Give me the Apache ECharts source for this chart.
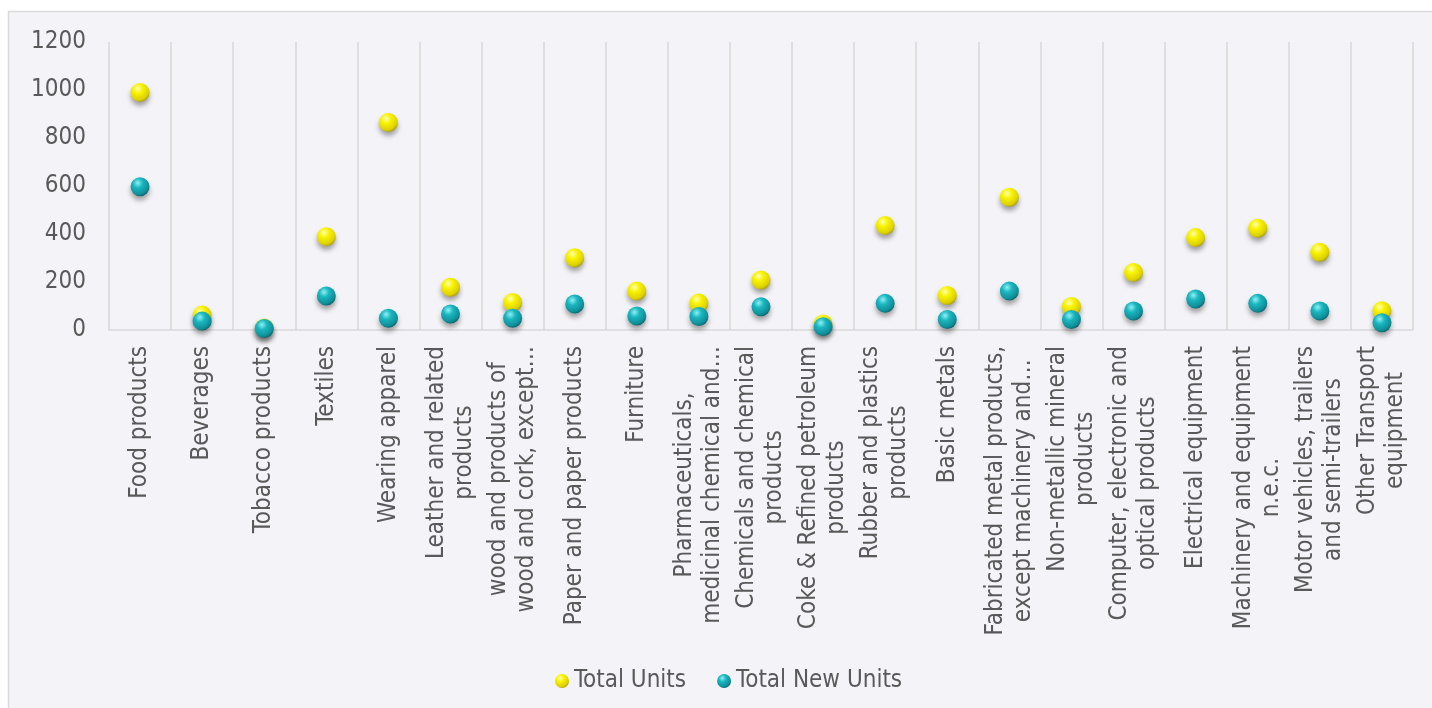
<!DOCTYPE html>
<html>
<head>
<meta charset="utf-8">
<script src="https://cdn.jsdelivr.net/npm/echarts@6/dist/echarts.min.js"></script>
<style>
html,body{margin:0;padding:0;background:#ffffff;}
#chart{position:absolute;left:0;top:0;width:1432px;height:708px;}
</style>
</head>
<body>
<div id="chart"></div>
<script>
const categories = [
  "Food products",
  "Beverages",
  "Tobacco products",
  "Textiles",
  "Wearing apparel",
  "Leather and related\nproducts",
  "wood and products of\nwood and cork, except…",
  "Paper and paper products",
  "Furniture",
  "Pharmaceuticals,\nmedicinal chemical and…",
  "Chemicals and chemical\nproducts",
  "Coke & Refined petroleum\nproducts",
  "Rubber and plastics\nproducts",
  "Basic metals",
  "Fabricated metal products,\nexcept machinery and…",
  "Non-metallic mineral\nproducts",
  "Computer, electronic and\noptical products",
  "Electrical equipment",
  "Machinery and equipment\nn.e.c.",
  "Motor vehicles, trailers\nand semi-trailers",
  "Other Transport\nequipment"
];
const totalUnits    = [990, 62, 8, 389, 865, 178, 115, 301, 162, 112, 208, 25, 435, 144, 553, 98, 240, 385, 424, 324, 80];
const totalNewUnits = [597, 37, 6, 142, 49, 67, 49, 108, 58, 56, 97, 14, 111, 44, 162, 44, 79, 129, 111, 79, 30];
const seriesNames = ["Total Units", "Total New Units"];
const yTicks = [0, 200, 400, 600, 800, 1000, 1200];

const FONT = '"DejaVu Sans Condensed", "DejaVu Sans", sans-serif';
const TXT = '#595959';

const yellowBall = {
  type: 'radial', x: 0.38, y: 0.3, r: 0.75,
  colorStops: [
    {offset: 0, color: '#ffffb0'},
    {offset: 0.35, color: '#f8f200'},
    {offset: 0.8, color: '#dcd000'},
    {offset: 1, color: '#a09600'}
  ]
};
const tealBall = {
  type: 'radial', x: 0.38, y: 0.3, r: 0.75,
  colorStops: [
    {offset: 0, color: '#8ff0f5'},
    {offset: 0.35, color: '#1ab6c0'},
    {offset: 0.8, color: '#108e98'},
    {offset: 1, color: '#0a5c64'}
  ]
};

const chart = echarts.init(document.getElementById('chart'), null, {renderer: 'canvas'});
chart.setOption({
  animation: false,
  textStyle: {fontFamily: FONT},
  graphic: [{
    type: 'rect', z: -10, silent: true,
    shape: {x: 8.5, y: 11.5, width: 1440, height: 720},
    style: {fill: '#f4f4f8', stroke: '#d9d9d9', lineWidth: 1.5}
  }],
  grid: {left: 109, right: 19, top: 42, bottom: 378, containLabel: false},
  legend: {
    data: seriesNames,
    left: 550, top: 664,
    icon: 'circle', itemWidth: 14, itemHeight: 14, itemGap: 31,
    itemStyle: {shadowBlur: 0, shadowOffsetY: 0, shadowColor: 'transparent'},
    textStyle: {fontSize: 24, color: TXT, fontFamily: FONT}
  },
  xAxis: {
    type: 'category',
    data: categories,
    boundaryGap: true,
    axisLine: {show: true, lineStyle: {color: '#d9d9d9', width: 1.5}},
    axisTick: {show: false},
    splitLine: {show: true, interval: 0, lineStyle: {color: '#d9d9d9', width: 1.5}},
    axisLabel: {
      interval: 0, rotate: 90, margin: 16,
      color: TXT, fontSize: 24, fontFamily: FONT, lineHeight: 28,
      formatter: function (v) {
        return v.split('\n').map(function (s) { return '{c|' + s + '}'; }).join('\n');
      },
      rich: {c: {align: 'center', fontSize: 24, lineHeight: 28, color: TXT, fontFamily: FONT}}
    }
  },
  yAxis: {
    type: 'value',
    min: yTicks[0], max: yTicks[yTicks.length - 1], interval: 200,
    axisLine: {show: false},
    axisTick: {show: false},
    splitLine: {show: false},
    axisLabel: {color: TXT, fontSize: 24, fontFamily: FONT, margin: 23,
      formatter: function (v) { return String(v); }}
  },
  series: [
    {
      name: seriesNames[0], type: 'scatter', data: totalUnits,
      symbol: 'circle', symbolSize: 19,
      itemStyle: {color: yellowBall, opacity: 1, shadowBlur: 5, shadowOffsetY: 4, shadowColor: 'rgba(0,0,0,0.35)'},
      z: 2
    },
    {
      name: seriesNames[1], type: 'scatter', data: totalNewUnits,
      symbol: 'circle', symbolSize: 19,
      itemStyle: {color: tealBall, opacity: 1, shadowBlur: 5, shadowOffsetY: 4, shadowColor: 'rgba(0,0,0,0.35)'},
      z: 3
    }
  ]
});
</script>
</body>
</html>
